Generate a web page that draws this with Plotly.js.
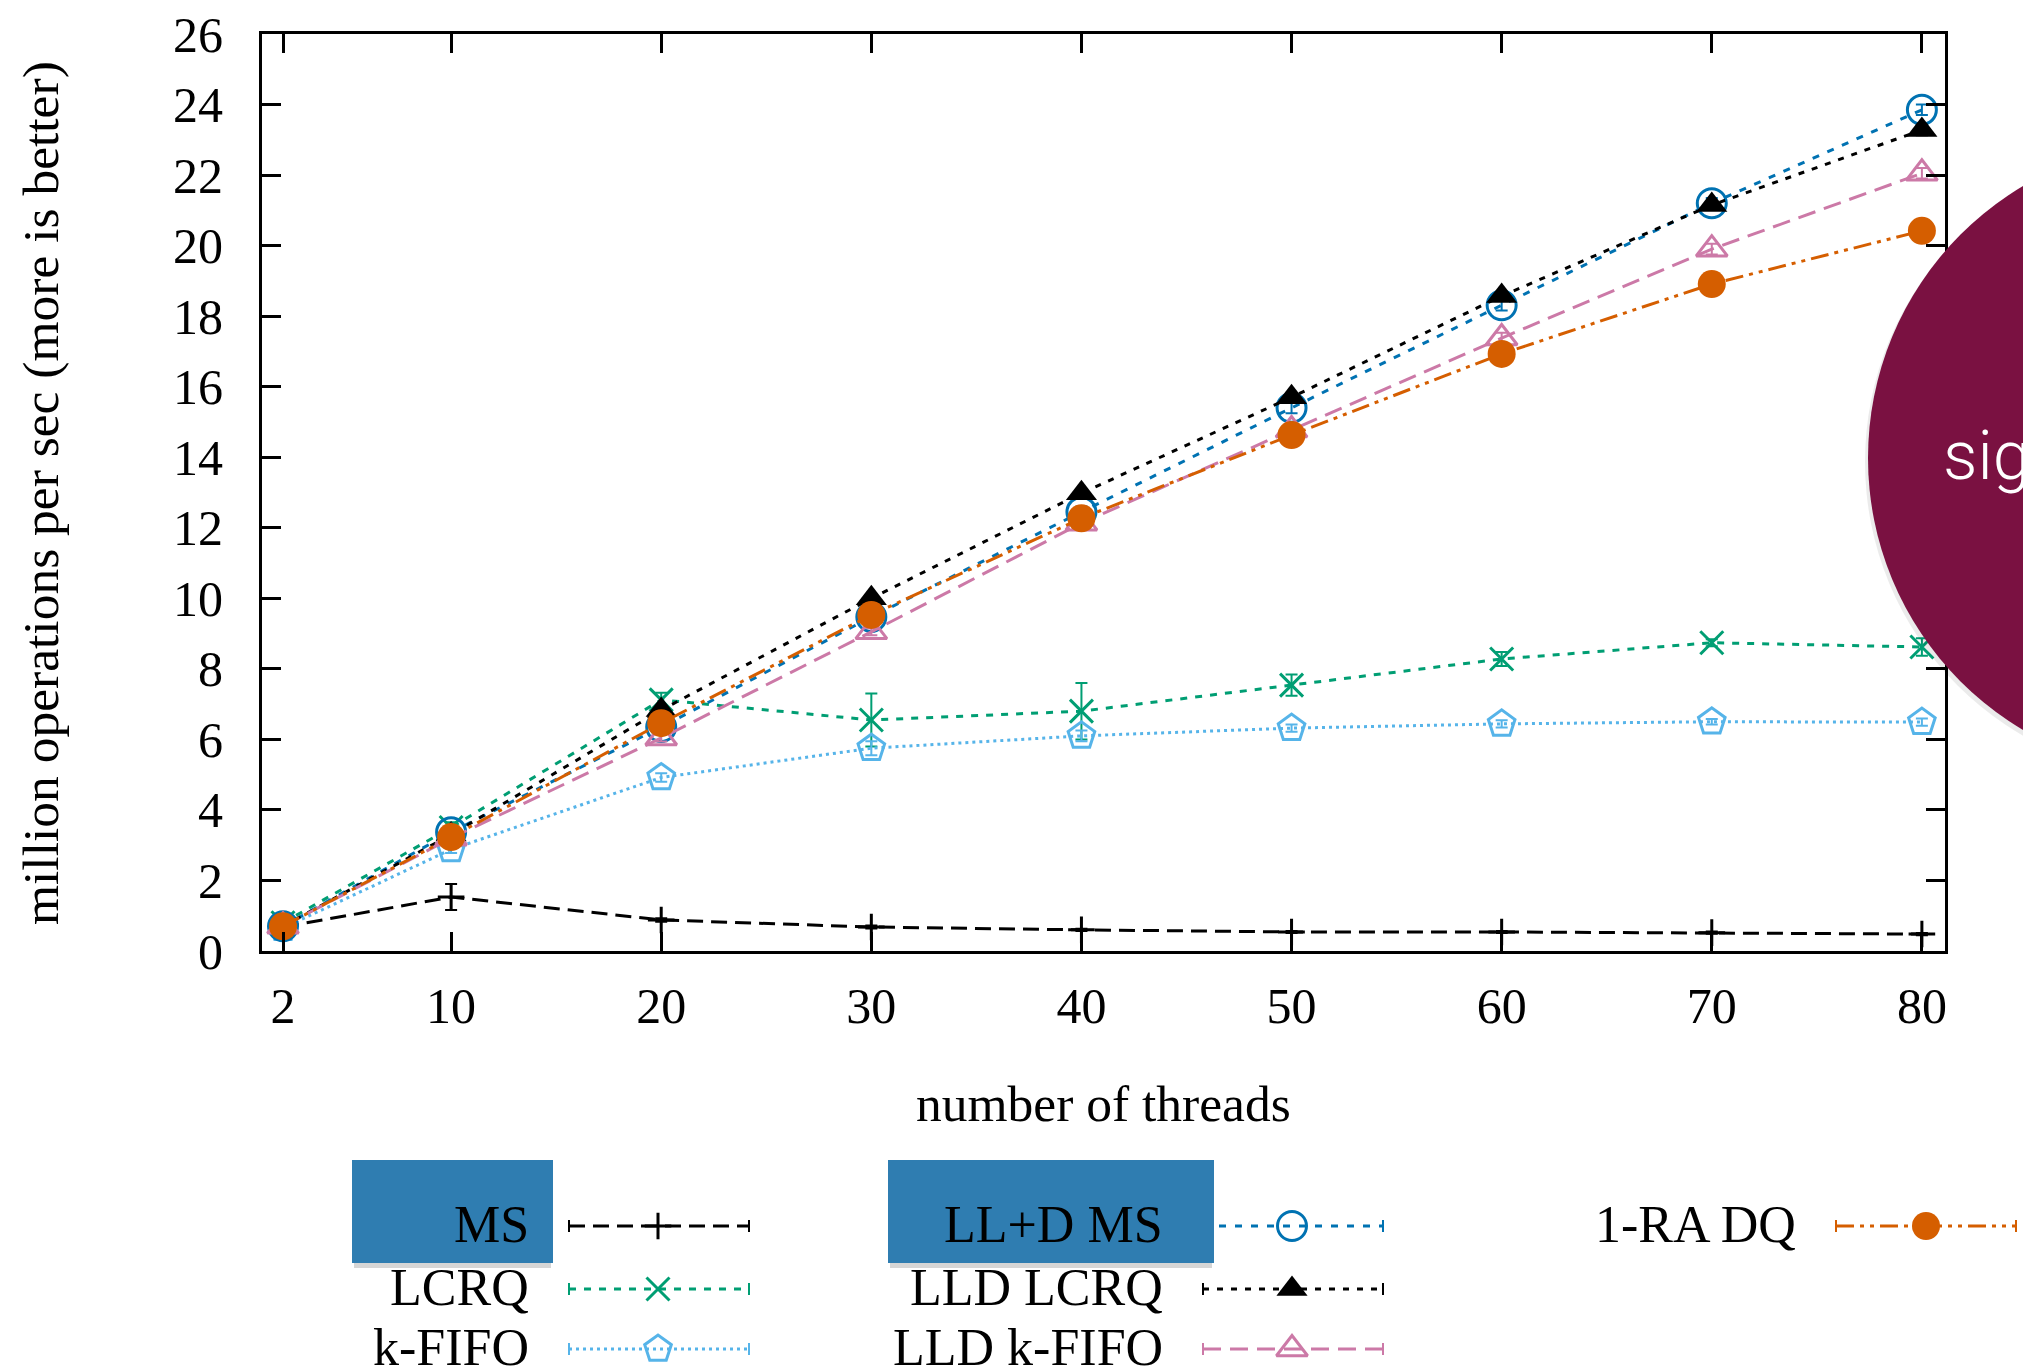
<!DOCTYPE html>
<html><head><meta charset="utf-8">
<script src="https://cdn.plot.ly/plotly-3.0.1.min.js"></script>
<style>html,body{margin:0;padding:0;background:#fff;} #chart{width:2023px;height:1371px;}</style>
</head><body><div id="chart"></div>
<script>
// ---------- data ----------
const threads = [2, 10, 20, 30, 40, 50, 60, 70, 80];
const xTickVals = [2, 10, 20, 30, 40, 50, 60, 70, 80];
const yTickVals = [0, 2, 4, 6, 8, 10, 12, 14, 16, 18, 20, 22, 24, 26];
const seriesNames = ["MS", "LCRQ", "k-FIFO", "LL+D MS", "LLD LCRQ", "LLD k-FIFO", "1-RA DQ"];

const msOps       = [0.68, 1.53, 0.88, 0.68, 0.60, 0.54, 0.54, 0.52, 0.48];
const msErr       = [0.05, 0.37, 0.05, 0.04, 0.03, 0.03, 0.03, 0.03, 0.03];
const lcrqOps     = [0.80, 3.50, 7.12, 6.55, 6.80, 7.54, 8.28, 8.74, 8.62];
const lcrqErr     = [0.10, 0.15, 0.20, 0.75, 0.80, 0.30, 0.20, 0.10, 0.25];
const kfifoOps    = [0.65, 2.88, 4.92, 5.75, 6.10, 6.32, 6.44, 6.50, 6.49];
const kfifoErr    = [0.05, 0.10, 0.12, 0.20, 0.15, 0.10, 0.10, 0.08, 0.10];
const lldMsOps    = [0.70, 3.37, 6.35, 9.47, 12.45, 15.40, 18.31, 21.20, 23.85];
const lldMsErr    = [0.05, 0.10, 0.10, 0.15, 0.15, 0.15, 0.15, 0.15, 0.15];
const lldLcrqOps  = [0.70, 3.30, 6.83, 10.00, 12.98, 15.70, 18.57, 21.15, 23.28];
const lldLcrqErr  = [0.05, 0.10, 0.10, 0.10, 0.10, 0.10, 0.10, 0.10, 0.15];
const lldKfifoOps = [0.70, 3.20, 6.04, 9.05, 12.13, 14.77, 17.38, 19.90, 22.05];
const lldKfifoErr = [0.05, 0.10, 0.10, 0.10, 0.10, 0.10, 0.15, 0.15, 0.15];
const raDqOps     = [0.70, 3.23, 6.46, 9.53, 12.27, 14.63, 16.93, 18.91, 20.42];
const raDqErr     = [0.05, 0.05, 0.05, 0.05, 0.05, 0.05, 0.05, 0.05, 0.05];

const seriesValues = [msOps, lcrqOps, kfifoOps, lldMsOps, lldLcrqOps, lldKfifoOps, raDqOps];
const seriesErrors = [msErr, lcrqErr, kfifoErr, lldMsErr, lldLcrqErr, lldKfifoErr, raDqErr];

const xTitle = "number of threads";
const yTitle = "million operations per sec (more is better)";
const overlayText = "sig";

// ---------- styles ----------
const styles = [
  {color: "#000000", dash: "16px,8px", symbol: "cross-thin-open", size: 19, open: true},
  {color: "#009E73", dash: "7px,8px", symbol: "x-thin-open", size: 23, open: true},
  {color: "#56B4E9", dash: "3px,4px", symbol: "pentagon-open", size: 28, open: true},
  {color: "#0072B2", dash: "7px,9px", symbol: "circle-open", size: 29, open: true},
  {color: "#000000", dash: "6px,8px", symbol: "triangle-up", size: 27, open: false},
  {color: "#CC79A7", dash: "18px,9px", symbol: "triangle-up-open", size: 27, open: true},
  {color: "#D55E00", dash: "18px,6px,4px,6px,4px,6px", symbol: "circle", size: 28, open: false}
];
// legend layout in page pixels: [textRightX, rowY, lineX0, lineX1, markerX]
const legendPos = [
  [531, 1226, 569, 749, 658],
  [531, 1289, 569, 749, 658],
  [531, 1349, 569, 749, 658],
  [1165, 1226, 1203, 1383, 1292],
  [1165, 1289, 1203, 1383, 1292],
  [1165, 1349, 1203, 1383, 1292],
  [1798, 1226, 1836, 2016, 1926]
];
const W = 2023, H = 1371;
const plotL = 262, plotR = 1945, plotT = 34, plotB = 951;
const serif = "Liberation Serif, Times New Roman, serif";
const tickFs = 50, titleFs = 51.5, legendFs = 52;

function markerFor(st, size) {
  if (st.open) {
    return {symbol: st.symbol, size: size, color: st.color, opacity: 1, line: {color: st.color, width: 3}};
  }
  return {symbol: st.symbol, size: size, color: st.color, opacity: 1, line: {width: 0}};
}

const traces = [];
seriesNames.forEach((name, i) => {
  const st = styles[i];
  traces.push({
    type: "scatter", mode: "lines+markers", name: name,
    x: threads, y: seriesValues[i],
    error_y: {type: "data", array: seriesErrors[i], visible: true, color: st.color, thickness: 2, width: 6},
    line: {color: st.color, width: 3, dash: st.dash},
    marker: markerFor(st, st.size),
    showlegend: false, xaxis: "x", yaxis: "y"
  });
});

// custom legend samples drawn on a page-pixel helper axis
const annotations = [];
seriesNames.forEach((name, i) => {
  const st = styles[i];
  const p = legendPos[i];
  traces.push({
    type: "scatter", mode: "lines+markers", name: name + " key",
    x: [p[2], p[4], p[3]], y: [p[1], p[1], p[1]],
    line: {color: st.color, width: 3, dash: st.dash},
    marker: Object.assign(markerFor(st, st.size), {size: [0, st.size, 0]}),
    error_y: {type: "data", array: [6, 0, 6], visible: true, color: st.color, thickness: 2, width: 0},
    showlegend: false, hoverinfo: "skip", xaxis: "x2", yaxis: "y2", cliponaxis: false
  });
  annotations.push({
    xref: "x2", yref: "y2", x: p[0], y: p[1] - 2, xanchor: "right", yanchor: "middle",
    text: name, showarrow: false, font: {family: serif, size: legendFs, color: "#000"}
  });
});

annotations.push({
  xref: "x2", yref: "y2", x: (plotL + plotR) / 2, y: 1103, xanchor: "center", yanchor: "middle",
  text: xTitle, showarrow: false, font: {family: serif, size: titleFs, color: "#000"}
});
annotations.push({
  xref: "x2", yref: "y2", x: 40, y: 493, xanchor: "center", yanchor: "middle", textangle: -90,
  text: yTitle, showarrow: false, font: {family: serif, size: titleFs, color: "#000"}
});
annotations.push({
  xref: "x2", yref: "y2", x: 1941, y: 456, xanchor: "left", yanchor: "middle",
  text: overlayText, showarrow: false, font: {family: "Roboto, Liberation Sans, sans-serif", size: 68, color: "#ffffff", weight: 300}
});

const shapes = [
  // box shadows (below only)
  {type: "rect", xref: "x2", yref: "y2", x0: 354, x1: 551, y0: 1170, y1: 1268, fillcolor: "rgba(0,0,0,0.16)", line: {width: 0}, layer: "above"},
  {type: "rect", xref: "x2", yref: "y2", x0: 890, x1: 1212, y0: 1170, y1: 1268, fillcolor: "rgba(0,0,0,0.16)", line: {width: 0}, layer: "above"},
  {type: "rect", xref: "x2", yref: "y2", x0: 352, x1: 553, y0: 1160, y1: 1263, fillcolor: "#2F7DB1", line: {width: 0}, layer: "above"},
  {type: "rect", xref: "x2", yref: "y2", x0: 888, x1: 1214, y0: 1160, y1: 1263, fillcolor: "#2F7DB1", line: {width: 0}, layer: "above"},
  // overlay circle with a faint shadow toward lower-left
  {type: "circle", xref: "x2", yref: "y2", x0: 1865, x1: 2497, y0: 146, y1: 778, fillcolor: "rgba(0,0,0,0.08)", line: {width: 0}, layer: "above"},
  {type: "circle", xref: "x2", yref: "y2", x0: 1868, x1: 2500, y0: 142, y1: 774, fillcolor: "#7A1141", line: {width: 0}, layer: "above"}
];

const axisCommon = {
  showline: true, linecolor: "#000", linewidth: 3, mirror: "allticks",
  ticks: "inside", ticklen: 19, tickwidth: 3, tickcolor: "#000",
  showgrid: false, zeroline: false,
  tickfont: {family: serif, size: tickFs, color: "#000"}
};

const layout = {
  width: W, height: H,
  margin: {l: 0, r: 0, t: 0, b: 0, pad: 0},
  paper_bgcolor: "#ffffff", plot_bgcolor: "rgba(0,0,0,0)",
  showlegend: false,
  xaxis: Object.assign({}, axisCommon, {
    domain: [plotL / W, plotR / W], range: [1.0, 81.1],
    tickmode: "array", tickvals: xTickVals, ticktext: xTickVals.map(String),
    anchor: "y", ticklabelstandoff: 9
  }),
  yaxis: Object.assign({}, axisCommon, {
    domain: [(H - plotB) / H, (H - plotT) / H], range: [0, 26],
    tickmode: "array", tickvals: yTickVals, ticktext: yTickVals.map(String),
    anchor: "x", ticklabelstandoff: 26
  }),
  xaxis2: {domain: [0, 1], range: [0, W], visible: false, fixedrange: true, anchor: "y2"},
  yaxis2: {domain: [0, 1], range: [H, 0], visible: false, fixedrange: true, anchor: "x2"},
  shapes: shapes,
  annotations: annotations
};

Plotly.newPlot("chart", traces, layout, {staticPlot: true, displayModeBar: false});
</script>
</body></html>
